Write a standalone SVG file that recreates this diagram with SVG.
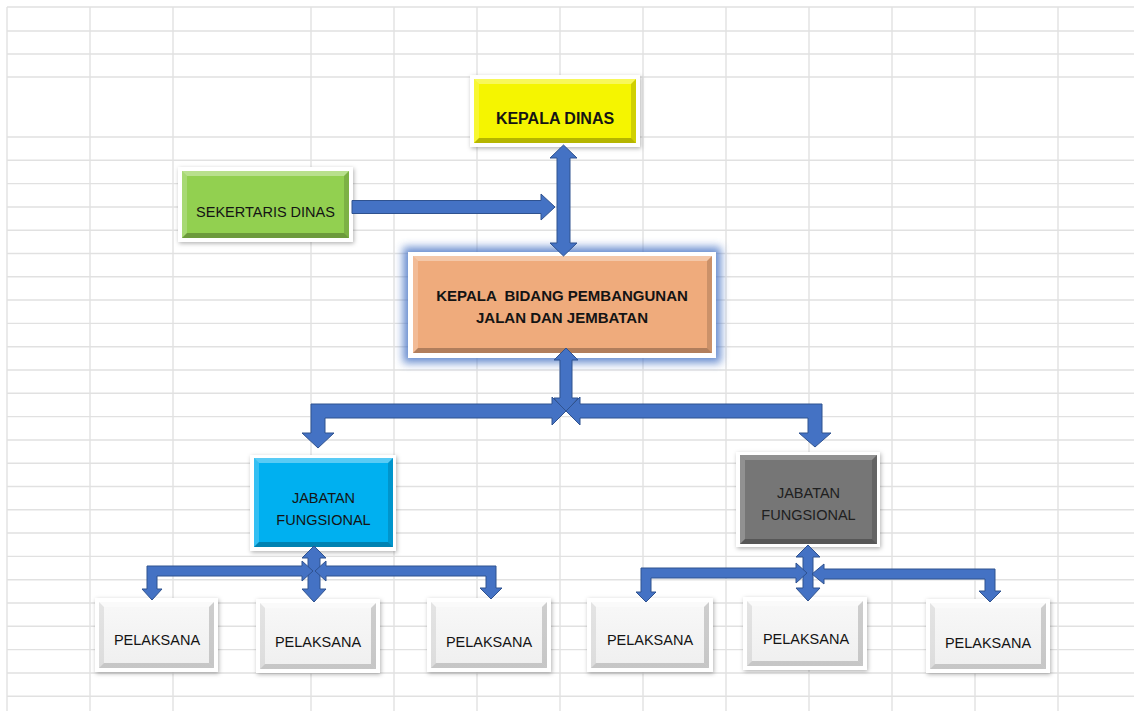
<svg xmlns="http://www.w3.org/2000/svg" width="1134" height="711" viewBox="0 0 1134 711">
  <defs>
    <filter id="shadow" x="-20%" y="-20%" width="140%" height="140%">
      <feDropShadow dx="1" dy="1.5" stdDeviation="2" flood-color="#000" flood-opacity="0.3"/>
    </filter>
    <filter id="glow" x="-20%" y="-30%" width="140%" height="160%">
      <feGaussianBlur stdDeviation="4"/>
    </filter>
    <linearGradient id="faceGrey" x1="0" y1="0" x2="0" y2="1">
      <stop offset="0" stop-color="#f8f8f8"/>
      <stop offset="1" stop-color="#efefef"/>
    </linearGradient>
  </defs>
  <style>
    .grid line { stroke: #e1e1e1; stroke-width: 1.4; }
    .frame { fill: #ffffff; filter: url(#shadow); }
    .hl { fill: #ffffff; opacity: 0.35; }
    .hl2 { fill: #ffffff; opacity: 0.2; }
    .sh { fill: #000000; opacity: 0.26; }
    .sh2 { fill: #000000; opacity: 0.15; }
    .psh { fill: #000000; opacity: 0.17; }
    .psh2 { fill: #000000; opacity: 0.08; }
    .lbl { font-family: "Liberation Sans", Arial, sans-serif; font-size: 14.5px; fill: #141414; text-anchor: middle; }
    .bold { font-weight: bold; font-size: 15px; white-space: pre; }
    .conn path { fill: #4472c4; stroke: #2f528f; stroke-width: 1; stroke-linejoin: miter; }
  </style>

  <rect width="1134" height="711" fill="#ffffff"/>

  <!-- spreadsheet grid -->
  <g class="grid">
    <line x1="7" y1="7" x2="1134" y2="7"/>
    <line x1="7" y1="31" x2="1134" y2="31"/>
    <line x1="7" y1="54" x2="1134" y2="54"/>
    <line x1="7" y1="77" x2="1134" y2="77"/>
    <line x1="7" y1="137" x2="1134" y2="137"/>
    <line x1="7" y1="160.3" x2="1134" y2="160.3"/>
    <line x1="7" y1="183.6" x2="1134" y2="183.6"/>
    <line x1="7" y1="207" x2="1134" y2="207"/>
    <line x1="7" y1="230.2" x2="1134" y2="230.2"/>
    <line x1="7" y1="253.5" x2="1134" y2="253.5"/>
    <line x1="7" y1="276.8" x2="1134" y2="276.8"/>
    <line x1="7" y1="300" x2="1134" y2="300"/>
    <line x1="7" y1="323.4" x2="1134" y2="323.4"/>
    <line x1="7" y1="346.7" x2="1134" y2="346.7"/>
    <line x1="7" y1="370" x2="1134" y2="370"/>
    <line x1="7" y1="393.3" x2="1134" y2="393.3"/>
    <line x1="7" y1="416.6" x2="1134" y2="416.6"/>
    <line x1="7" y1="440" x2="1134" y2="440"/>
    <line x1="7" y1="463.2" x2="1134" y2="463.2"/>
    <line x1="7" y1="486.5" x2="1134" y2="486.5"/>
    <line x1="7" y1="509.8" x2="1134" y2="509.8"/>
    <line x1="7" y1="533" x2="1134" y2="533"/>
    <line x1="7" y1="556.4" x2="1134" y2="556.4"/>
    <line x1="7" y1="579.7" x2="1134" y2="579.7"/>
    <line x1="7" y1="603" x2="1134" y2="603"/>
    <line x1="7" y1="626.3" x2="1134" y2="626.3"/>
    <line x1="7" y1="649.6" x2="1134" y2="649.6"/>
    <line x1="7" y1="673" x2="1134" y2="673"/>
    <line x1="7" y1="696.2" x2="1134" y2="696.2"/>
    <line x1="7" y1="7" x2="7" y2="711"/>
    <line x1="90" y1="7" x2="90" y2="711"/>
    <line x1="173" y1="7" x2="173" y2="711"/>
    <line x1="311" y1="7" x2="311" y2="711"/>
    <line x1="394" y1="7" x2="394" y2="711"/>
    <line x1="477" y1="7" x2="477" y2="711"/>
    <line x1="560" y1="7" x2="560" y2="711"/>
    <line x1="643" y1="7" x2="643" y2="711"/>
    <line x1="726" y1="7" x2="726" y2="711"/>
    <line x1="809" y1="7" x2="809" y2="711"/>
    <line x1="892" y1="7" x2="892" y2="711"/>
    <line x1="975" y1="7" x2="975" y2="711"/>
    <line x1="1058" y1="7" x2="1058" y2="711"/>
  </g>

  <!-- KEPALA DINAS -->
  <g id="kepala-dinas">
    <rect class="frame" x="470" y="75" width="170" height="72"/>
    <rect x="474" y="79" width="162" height="64" fill="#f5f500"/>
    <polygon class="hl" points="474,79 636,79 631,84 479,84"/>
    <polygon class="hl2" points="474,79 479,84 479,138 474,143"/>
    <polygon class="sh" points="474,143 479,138 631,138 636,143"/>
    <polygon class="sh2" points="636,79 636,143 631,138 631,84"/>
    <text class="lbl bold" x="555" y="124" style="font-size:16px">KEPALA DINAS</text>
  </g>

  <!-- SEKERTARIS DINAS -->
  <g id="sekertaris-dinas">
    <rect class="frame" x="178" y="167" width="175" height="75"/>
    <rect x="182" y="171" width="167" height="67" fill="#92d050"/>
    <polygon class="hl" points="182,171 349,171 344,176 187,176"/>
    <polygon class="hl2" points="182,171 187,176 187,233 182,238"/>
    <polygon class="sh" points="182,238 187,233 344,233 349,238"/>
    <polygon class="sh2" points="349,171 349,238 344,233 344,176"/>
    <text class="lbl" x="265.5" y="217">SEKERTARIS DINAS</text>
  </g>

  <!-- KEPALA BIDANG PEMBANGUNAN JALAN DAN JEMBATAN -->
  <g id="kepala-bidang">
    <rect x="403" y="247" width="318" height="116" fill="#4472c4" opacity="0.8" filter="url(#glow)"/>
    <rect x="408" y="252" width="308" height="106" fill="#ffffff"/>
    <rect x="413" y="256" width="299" height="97" fill="#efab7c"/>
    <polygon class="hl" points="413,256 712,256 707,261 418,261"/>
    <polygon class="hl2" points="413,256 418,261 418,348 413,353"/>
    <polygon class="sh" points="413,353 418,348 707,348 712,353"/>
    <polygon class="sh2" points="712,256 712,353 707,348 707,261"/>
    <text class="lbl bold" x="562" y="301">KEPALA  BIDANG PEMBANGUNAN</text>
    <text class="lbl bold" x="562" y="323">JALAN DAN JEMBATAN</text>
  </g>

  <!-- JABATAN FUNGSIONAL (left) -->
  <g id="jabatan-fungsional-1">
    <rect class="frame" x="250" y="455" width="146" height="96"/>
    <rect x="254" y="458" width="139" height="89" fill="#00b0f0"/>
    <polygon class="hl" points="254,458 393,458 388,463 259,463"/>
    <polygon class="hl2" points="254,458 259,463 259,542 254,547"/>
    <polygon class="sh" points="254,547 259,542 388,542 393,547"/>
    <polygon class="sh2" points="393,458 393,547 388,542 388,463"/>
    <text class="lbl" x="323.5" y="503">JABATAN</text>
    <text class="lbl" x="323.5" y="525">FUNGSIONAL</text>
  </g>

  <!-- JABATAN FUNGSIONAL (right) -->
  <g id="jabatan-fungsional-2">
    <rect class="frame" x="736" y="452" width="144" height="95"/>
    <rect x="740" y="455" width="137" height="89" fill="#767676"/>
    <polygon class="hl2" points="740,455 877,455 872,460 745,460"/>
    <polygon class="hl2" points="740,455 745,460 745,539 740,544"/>
    <polygon class="sh" points="740,544 745,539 872,539 877,544"/>
    <polygon class="sh2" points="877,455 877,544 872,539 872,460"/>
    <text class="lbl" x="808.5" y="498" style="fill:#202020">JABATAN</text>
    <text class="lbl" x="808.5" y="520" style="fill:#202020">FUNGSIONAL</text>
  </g>

  <!-- PELAKSANA boxes -->
  <g id="pelaksana-1">
    <rect class="frame" x="95" y="598" width="123" height="74"/>
    <rect x="99" y="602" width="115" height="66" fill="url(#faceGrey)"/>
    <polygon class="hl" points="99,602 214,602 209,607 104,607"/>
    <polygon class="psh2" points="99,602 104,607 104,663 99,668"/>
    <polygon class="psh" points="99,668 104,663 209,663 214,668"/>
    <polygon class="psh" points="214,602 214,668 209,663 209,607"/>
    <text class="lbl" x="157" y="645">PELAKSANA</text>
  </g>
  <g id="pelaksana-2">
    <rect class="frame" x="256" y="599" width="124" height="74"/>
    <rect x="260" y="603" width="116" height="66" fill="url(#faceGrey)"/>
    <polygon class="hl" points="260,603 376,603 371,608 265,608"/>
    <polygon class="psh2" points="260,603 265,608 265,664 260,669"/>
    <polygon class="psh" points="260,669 265,664 371,664 376,669"/>
    <polygon class="psh" points="376,603 376,669 371,664 371,608"/>
    <text class="lbl" x="318" y="647">PELAKSANA</text>
  </g>
  <g id="pelaksana-3">
    <rect class="frame" x="427" y="598" width="124" height="74"/>
    <rect x="431" y="602" width="116" height="66" fill="url(#faceGrey)"/>
    <polygon class="hl" points="431,602 547,602 542,607 436,607"/>
    <polygon class="psh2" points="431,602 436,607 436,663 431,668"/>
    <polygon class="psh" points="431,668 436,663 542,663 547,668"/>
    <polygon class="psh" points="547,602 547,668 542,663 542,607"/>
    <text class="lbl" x="489" y="647">PELAKSANA</text>
  </g>
  <g id="pelaksana-4">
    <rect class="frame" x="587" y="598" width="126" height="74"/>
    <rect x="591" y="602" width="118" height="66" fill="url(#faceGrey)"/>
    <polygon class="hl" points="591,602 709,602 704,607 596,607"/>
    <polygon class="psh2" points="591,602 596,607 596,663 591,668"/>
    <polygon class="psh" points="591,668 596,663 704,663 709,668"/>
    <polygon class="psh" points="709,602 709,668 704,663 704,607"/>
    <text class="lbl" x="650" y="645">PELAKSANA</text>
  </g>
  <g id="pelaksana-5">
    <rect class="frame" x="743" y="597" width="124" height="73"/>
    <rect x="747" y="601" width="116" height="65" fill="url(#faceGrey)"/>
    <polygon class="hl" points="747,601 863,601 858,606 752,606"/>
    <polygon class="psh2" points="747,601 752,606 752,661 747,666"/>
    <polygon class="psh" points="747,666 752,661 858,661 863,666"/>
    <polygon class="psh" points="863,601 863,666 858,661 858,606"/>
    <text class="lbl" x="806" y="644">PELAKSANA</text>
  </g>
  <g id="pelaksana-6">
    <rect class="frame" x="926" y="599" width="124" height="74"/>
    <rect x="930" y="603" width="116" height="66" fill="url(#faceGrey)"/>
    <polygon class="hl" points="930,603 1046,603 1041,608 935,608"/>
    <polygon class="psh2" points="930,603 935,608 935,664 930,669"/>
    <polygon class="psh" points="930,669 935,664 1041,664 1046,669"/>
    <polygon class="psh" points="1046,603 1046,669 1041,664 1041,608"/>
    <text class="lbl" x="988" y="648">PELAKSANA</text>
  </g>

  <!-- connectors: block arrows -->
  <g id="connectors" class="conn">
    <!-- sekertaris to main line -->
    <path d="M352,200.5 H541 V194 L555,207 L541,220 V213.5 H352 Z"/>
    <!-- kepala dinas <-> kepala bidang -->
    <path d="M563.5,145 L577,158 H570 V243 H577 L563.5,256 L550,243 H557 V158 H550 Z"/>
    <!-- kepala bidang <-> junction -->
    <path d="M566,348 L578,360 H572 V398 H578 L566,412 L554,398 H560 V360 H554 Z"/>
    <!-- junction to left jabatan -->
    <path d="M311,404 H552 V397 L566,411 L552,425 V418 H325 V433 H334 L318,448 L302,433 H311 Z"/>
    <!-- junction to right jabatan -->
    <path d="M566,411 L580,397 V404 H822 V433 H831 L815,447 L799,433 H808 V418 H580 V425 Z"/>
    <!-- left jabatan <-> its pelaksana -->
    <path d="M314,546 L326,558 H320 V589 H326 L314,602 L302,589 H308 V558 H302 Z"/>
    <path d="M147,566 H302 V561 L313,571 L302,581 V576 H157 V589 H162 L152,600 L142,589 H147 Z"/>
    <path d="M315,571 L326,561 V566 H496 V588 H502 L491,599 L480,588 H486 V576 H326 V581 Z"/>
    <!-- right jabatan <-> its pelaksana -->
    <path d="M808,545 L820,557 H813 V588 H820 L808,601 L796,588 H803 V557 H796 Z"/>
    <path d="M641,568 H796 V563 L807,573 L796,583 V578 H651 V592 H656 L646,602 L636,592 H641 Z"/>
    <path d="M812,574 L824,564 V569 H995 V591 H1001 L990,602 L979,591 H985 V579 H824 V584 Z"/>
  </g>
</svg>
